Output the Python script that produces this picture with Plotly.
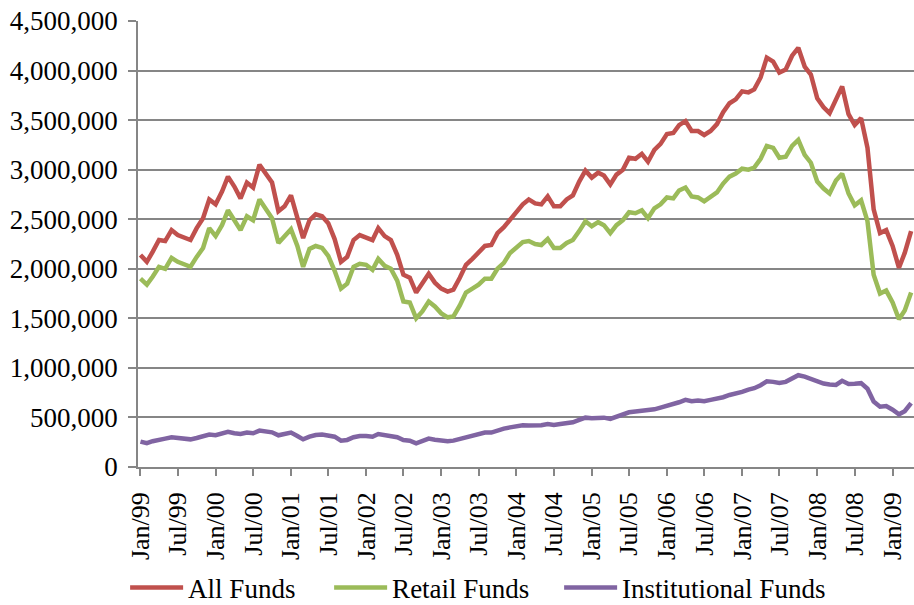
import pandas as pd
import plotly.graph_objects as go

months = pd.date_range("1999-01-01", periods=124, freq="MS")

all_funds_m = [
    2.14, 2.07, 2.17, 2.29, 2.28, 2.39, 2.34, 2.32, 2.29, 2.41, 2.51, 2.70,
    2.65, 2.78, 2.93, 2.83, 2.71, 2.87, 2.82, 3.05, 2.95, 2.87, 2.58, 2.63,
    2.74, 2.53, 2.31, 2.49, 2.55, 2.53, 2.46, 2.30, 2.07, 2.12, 2.29, 2.34,
    2.32, 2.29, 2.41, 2.33, 2.29, 2.14, 1.94, 1.91, 1.76, 1.85, 1.95, 1.86,
    1.80, 1.77, 1.79, 1.91, 2.04, 2.10, 2.16, 2.23, 2.24, 2.36, 2.42, 2.50,
    2.57, 2.65, 2.70, 2.66, 2.65, 2.73, 2.63, 2.63, 2.70, 2.74, 2.88, 2.99,
    2.92, 2.97, 2.94, 2.85, 2.95, 3.00, 3.12, 3.11, 3.16, 3.08, 3.20, 3.26,
    3.36, 3.37, 3.45, 3.49, 3.39, 3.39, 3.35, 3.39, 3.46, 3.58, 3.67, 3.71,
    3.79, 3.78, 3.81, 3.93, 4.13, 4.09, 3.98, 4.01, 4.15, 4.23, 4.04, 3.96,
    3.72, 3.63, 3.57, 3.72, 3.84, 3.56, 3.45, 3.52, 3.22, 2.60, 2.36, 2.39,
    2.23, 2.01, 2.16, 2.38,
]

retail_funds_m = [
    1.90, 1.84, 1.92, 2.02, 2.00, 2.11, 2.07, 2.05, 2.02, 2.12, 2.21, 2.41,
    2.33, 2.44, 2.59, 2.49, 2.39, 2.53, 2.49, 2.70, 2.60, 2.51, 2.26, 2.33,
    2.40, 2.23, 2.02, 2.20, 2.23, 2.21, 2.13, 1.98, 1.80, 1.85, 2.02, 2.05,
    2.04, 1.99, 2.10, 2.03, 2.00, 1.88, 1.67, 1.66, 1.50, 1.57, 1.67, 1.62,
    1.55, 1.51, 1.52, 1.63, 1.76, 1.80, 1.84, 1.90, 1.90, 2.00, 2.06, 2.16,
    2.22, 2.27, 2.28, 2.25, 2.24, 2.30, 2.21, 2.21, 2.26, 2.29, 2.38, 2.48,
    2.43, 2.47, 2.44, 2.36, 2.44, 2.49, 2.57, 2.56, 2.59, 2.51, 2.61, 2.65,
    2.72, 2.71, 2.79, 2.82, 2.73, 2.72, 2.68, 2.72, 2.77, 2.86, 2.93, 2.96,
    3.01, 3.00, 3.02, 3.11, 3.24, 3.22, 3.12, 3.13, 3.24, 3.30, 3.15, 3.07,
    2.88, 2.81, 2.76, 2.89, 2.96, 2.76, 2.64, 2.69, 2.48, 1.94, 1.75, 1.78,
    1.66, 1.49, 1.58, 1.76,
]

institutional_funds_k = [
    256, 240, 260, 279, 286, 300, 293, 286, 279, 293, 306, 327,
    320, 333, 354, 340, 333, 347, 340, 367, 357, 350, 320, 333,
    347, 313, 279, 306, 323, 327, 320, 306, 266, 273, 300, 313,
    313, 306, 333, 320, 316, 300, 273, 266, 239, 263, 286, 276,
    266, 259, 266, 283, 306, 320, 330, 347, 347, 370, 387, 400,
    415, 420, 418, 414, 421, 434, 424, 434, 444, 451, 475, 498,
    492, 495, 498, 485, 508, 522, 552, 559, 566, 572, 582, 599,
    616, 643, 653, 677, 663, 670, 663, 677, 687, 704, 727, 740,
    758, 781, 795, 825, 865, 859, 848, 859, 892, 926, 912, 886,
    859, 842, 832, 828, 870, 838, 840, 846, 790, 660, 609, 615,
    578, 532, 563, 645,
]

all_funds = [v * 1_000_000 for v in all_funds_m]
retail_funds = [v * 1_000_000 for v in retail_funds_m]
institutional_funds = [v * 1_000 for v in institutional_funds_k]

series = [
    ("All Funds", all_funds, "#C0504D", 136),
    ("Retail Funds", retail_funds, "#9BBB59", 162),
    ("Institutional Funds", institutional_funds, "#8064A2", 0),
]

FONT = "Liberation Serif, Times New Roman, serif"
GRID = "#868686"

fig = go.Figure()
for name, vals, color, lw in series:
    fig.add_trace(go.Scatter(
        x=months, y=vals, name=name, mode="lines",
        line=dict(color=color, width=4.5),
        legendwidth=lw if lw else None,
    ))

fig.update_layout(
    width=914, height=605,
    margin=dict(l=138, r=0, t=21, b=138, autoexpand=False),
    paper_bgcolor="white", plot_bgcolor="white",
    font=dict(family=FONT, size=27, color="black"),
    showlegend=True,
    legend=dict(
        orientation="h", x=-0.0166, xanchor="left",
        y=-0.2164, yanchor="top", itemwidth=53,
        font=dict(family=FONT, size=27, color="black"),
        bgcolor="rgba(0,0,0,0)",
    ),
    xaxis=dict(
        type="date", automargin=False,
        range=["1998-12-20", "2009-04-15"],
        tick0="1999-01-01", dtick="M6", tickformat="%b/%y",
        tickangle=-90,
        ticks="outside", ticklen=7, tickwidth=1.5, tickcolor=GRID,
        ticklabelstandoff=6, ticklabeloverflow="allow",
        showline=True, linecolor=GRID, linewidth=1.5,
        showgrid=False, zeroline=False,
        tickfont=dict(family=FONT, size=26, color="black"),
    ),
    yaxis=dict(
        automargin=False,
        range=[0, 4_500_000], dtick=500_000, tickformat=",d",
        ticks="outside", ticklen=8, tickwidth=1.5, tickcolor=GRID,
        ticklabelstandoff=5, ticklabeloverflow="allow",
        showline=True, linecolor=GRID, linewidth=1.5,
        showgrid=True, gridcolor=GRID, gridwidth=1.5,
        zeroline=False,
        tickfont=dict(family=FONT, size=27, color="black"),
    ),
)

fig.write_html(
    "out.html",
    config={"displayModeBar": False},
    post_script="document.body.style.margin='0';document.body.style.overflow='hidden';",
)
